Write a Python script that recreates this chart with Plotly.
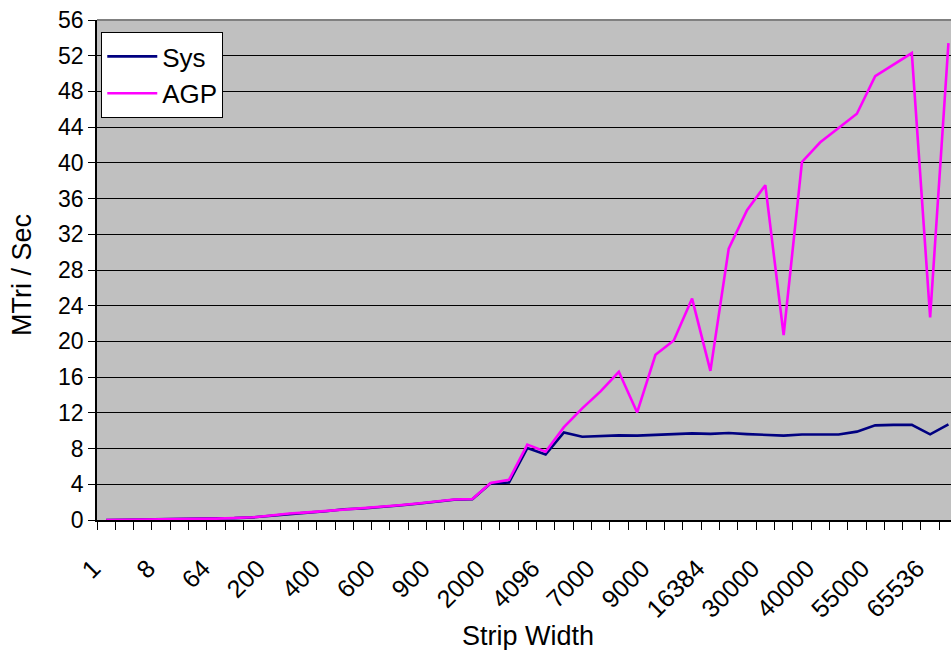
import plotly.graph_objects as go

# Triangle throughput (MTri/Sec) for each tested strip width
tick_labels = ["1", "8", "64", "200", "400", "600", "900", "2000", "4096",
               "7000", "9000", "16384", "30000", "40000", "55000", "65536"]
label_step = 3

agp = [0.0, 0.02, 0.03, 0.05, 0.07, 0.09, 0.15, 0.22, 0.30, 0.50,
       0.72, 0.85, 1.00, 1.22, 1.30, 1.45, 1.65, 1.85, 2.05, 2.30,
       2.35, 4.15, 4.50, 8.45, 7.65, 10.4, 12.5, 14.4, 16.6, 12.05,
       18.5, 20.1, 24.8, 16.7, 30.4, 34.7, 37.5, 20.7, 40.1, 42.3,
       43.9, 45.5, 49.7, 51.0, 52.3, 22.7, 53.4]

sys_mem = [0.0, 0.02, 0.03, 0.05, 0.07, 0.09, 0.14, 0.21, 0.29, 0.48,
           0.70, 0.83, 0.98, 1.20, 1.28, 1.42, 1.62, 1.82, 2.02, 2.27,
           2.32, 4.10, 4.20, 8.05, 7.35, 9.80, 9.33, 9.40, 9.48, 9.45,
           9.56, 9.60, 9.70, 9.65, 9.74, 9.62, 9.57, 9.45, 9.58, 9.60,
           9.57, 9.90, 10.6, 10.65, 10.65, 9.60, 10.7]

x = list(range(len(agp)))
FONT = "Liberation Sans, Arial, sans-serif"

fig = go.Figure()
fig.add_trace(go.Scatter(x=x, y=sys_mem, mode="lines", name="Sys",
                         line=dict(color="#000080", width=2.6)))
fig.add_trace(go.Scatter(x=x, y=agp, mode="lines", name="AGP",
                         line=dict(color="#FF00FF", width=2.6)))

fig.update_layout(
    width=951, height=650,
    margin=dict(l=97, r=0, t=20, b=130),
    paper_bgcolor="white",
    plot_bgcolor="#C0C0C0",
    font=dict(family=FONT, size=23, color="black"),
    showlegend=True,
    legend=dict(x=0.005, y=0.976, xanchor="left", yanchor="top",
                bgcolor="white", bordercolor="black", borderwidth=1,
                font=dict(size=26), tracegroupgap=0, itemwidth=50),
    xaxis=dict(
        range=[-0.5, 46.14],
        tickmode="array",
        tickvals=x[::label_step],
        ticktext=tick_labels,
        tickangle=-45,
        ticks="",
        showgrid=False,
        zeroline=False,
        showline=True, linecolor="black", linewidth=1.5,
        tickfont=dict(size=25),
        ticklabelstandoff=22,
        ticklabelshift=-13,
        minor=dict(tickmode="array",
                   tickvals=[i - 0.5 for i in range(len(agp) + 1)],
                   ticks="outside", ticklen=8, tickcolor="black",
                   tickwidth=1, showgrid=False),
    ),
    yaxis=dict(
        range=[0, 56],
        tickmode="linear", tick0=0, dtick=4,
        ticks="outside", ticklen=7, tickcolor="black",
        showgrid=True, gridcolor="black", gridwidth=1,
        zeroline=False,
        showline=True, linecolor="black", linewidth=1.5,
        tickfont=dict(size=23),
    ),
)

# Top edge of the plot area
fig.add_shape(type="line", xref="paper", yref="paper",
              x0=0, x1=1, y0=1, y1=1,
              line=dict(color="#808080", width=2), layer="above")

fig.add_annotation(text="Strip Width", xref="paper", yref="paper",
                   x=0.505, y=0, yshift=-116, showarrow=False,
                   font=dict(size=27), yanchor="middle")
fig.add_annotation(text="MTri / Sec", xref="paper", yref="paper",
                   x=0, xshift=-75, y=0.5, yshift=-5, textangle=-90,
                   showarrow=False, font=dict(size=27), xanchor="center")

fig.write_html("out.html")
